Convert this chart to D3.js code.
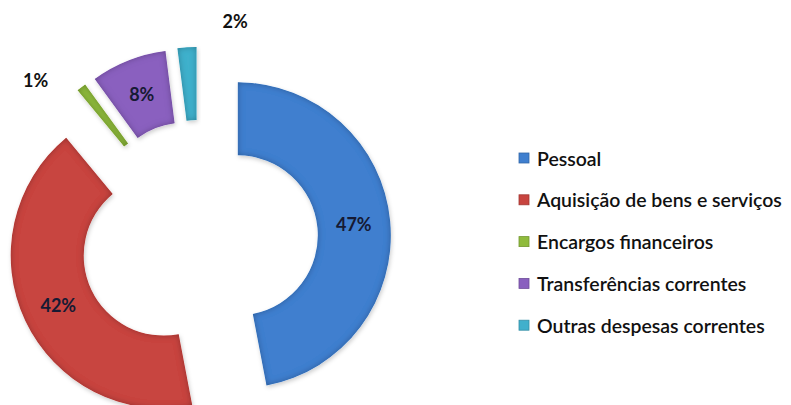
<!DOCTYPE html>
<html>
<head>
<meta charset="utf-8">
<script src="https://cdn.jsdelivr.net/npm/d3@7"></script>
<style>
  html, body { margin: 0; padding: 0; background: #fff; }
  svg { display: block; font-family: Lato, "Open Sans", sans-serif; }
</style>
</head>
<body>
<svg id="chart" width="791" height="405"></svg>
<script>
// Despesas correntes por rubrica (%)
const categories = [
  "Pessoal",
  "Aquisição de bens e serviços",
  "Encargos financeiros",
  "Transferências correntes",
  "Outras despesas correntes"
];
const shares = [47, 42, 1, 8, 2];
const colors = ["#3f7fcf", "#c8443f", "#8fbb3c", "#8a60bf", "#41b0cc"];
const labelTexts = ["47%", "42%", "1%", "8%", "2%"];

const svg = d3.select("#chart");

// Donut geometry
const cx = 199, cy = 239;
const innerR = 80, outerR = 153;
const explode = 39;

const defs = svg.append("defs");

// soft bevel: darken the rim of every slice and cast a light shadow
const bevel = defs.append("filter").attr("id", "bevel")
  .attr("x", "-20%").attr("y", "-20%").attr("width", "140%").attr("height", "140%");
bevel.append("feGaussianBlur").attr("in", "SourceAlpha").attr("stdDeviation", 3.2).attr("result", "blur");
bevel.append("feComposite").attr("in", "SourceAlpha").attr("in2", "blur")
  .attr("operator", "arithmetic").attr("k2", 1).attr("k3", -1).attr("result", "rim");
bevel.append("feFlood").attr("flood-color", "#000").attr("flood-opacity", 0.55).attr("result", "dark");
bevel.append("feComposite").attr("in", "dark").attr("in2", "rim").attr("operator", "in").attr("result", "rimShade");
bevel.append("feOffset").attr("in", "SourceAlpha").attr("dx", 1).attr("dy", 2).attr("result", "off");
bevel.append("feGaussianBlur").attr("in", "off").attr("stdDeviation", 2).attr("result", "offBlur");
bevel.append("feFlood").attr("flood-color", "#000").attr("flood-opacity", 0.2).attr("result", "sh");
bevel.append("feComposite").attr("in", "sh").attr("in2", "offBlur").attr("operator", "in").attr("result", "shadow");
const merge = bevel.append("feMerge");
merge.append("feMergeNode").attr("in", "shadow");
merge.append("feMergeNode").attr("in", "SourceGraphic");
merge.append("feMergeNode").attr("in", "rimShade");

const pie = d3.pie().sort(null).startAngle(0).endAngle(2 * Math.PI);
const arcs = pie(shares);

const arc = d3.arc().innerRadius(innerR).outerRadius(outerR);
const midArc = d3.arc().innerRadius((innerR + outerR) / 2).outerRadius((innerR + outerR) / 2);

function explodeOffset(d) {
  const a = (d.startAngle + d.endAngle) / 2;
  return [explode * Math.sin(a), -explode * Math.cos(a)];
}

const g = svg.append("g").attr("transform", `translate(${cx},${cy})`);

const slices = g.selectAll("g.slice").data(arcs).join("g")
  .attr("class", "slice")
  .attr("transform", d => { const o = explodeOffset(d); return `translate(${o[0]},${o[1]})`; });

slices.append("path")
  .attr("d", arc)
  .attr("fill", (d, i) => colors[i])
  .attr("filter", "url(#bevel)");

// Labels: large slices carry their value inside, thin slices get it outside
const outsidePlacement = { 2: { angle: -8, radius: 228 }, 4: { angle: 13, radius: 221 } };

arcs.forEach((d, i) => {
  const o = explodeOffset(d);
  let x, y, fill;
  if (outsidePlacement[i]) {
    const p = outsidePlacement[i];
    const a = (d.startAngle + d.endAngle) / 2 + p.angle * Math.PI / 180;
    x = p.radius * Math.sin(a);
    y = -p.radius * Math.cos(a);
    fill = "#111";
  } else {
    const c = midArc.centroid(d);
    x = c[0] + o[0];
    y = c[1] + o[1];
    fill = "#161a33";
  }
  g.append("text")
    .attr("x", x).attr("y", y)
    .attr("text-anchor", "middle")
    .attr("dominant-baseline", "central")
    .attr("font-size", 18)
    .attr("font-weight", "bold")
    .attr("fill", fill)
    .text(labelTexts[i]);
});

// Legend
const legendX = 519, legendY = 158, legendStep = 41.8;
const legendTextX = 18, legendTextWidth = 245;
const legend = svg.append("g");
const rows = legend.selectAll("g").data(categories).join("g")
  .attr("transform", (d, i) => `translate(${legendX},${legendY + i * legendStep})`);
rows.append("rect")
  .attr("x", 0).attr("y", -5).attr("width", 10).attr("height", 10)
  .attr("fill", (d, i) => colors[i])
  .attr("stroke", (d, i) => d3.color(colors[i]).darker(0.6))
  .attr("stroke-width", 0.8);
const legendText = rows.append("text")
  .attr("x", legendTextX).attr("y", 0)
  .attr("dominant-baseline", "central")
  .attr("font-size", 100)
  .attr("font-weight", 600)
  .attr("fill", "#111")
  .text(d => d);

// size the legend font so the longest entry spans the legend column
const widest = d3.max(legendText.nodes(), n => n.getComputedTextLength());
legendText.attr("font-size", 100 * legendTextWidth / widest);
</script>
</body>
</html>
